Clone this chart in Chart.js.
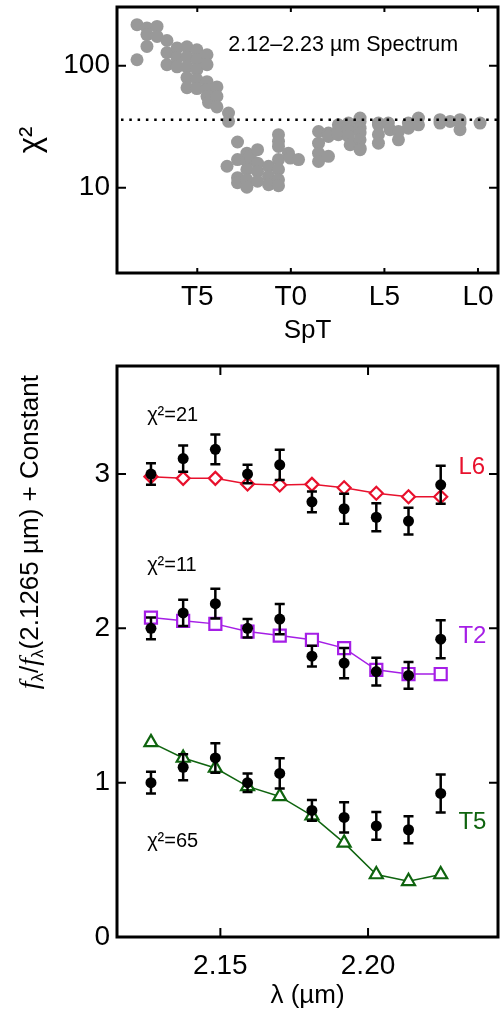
<!DOCTYPE html>
<html><head><meta charset="utf-8">
<script src="https://cdn.jsdelivr.net/npm/chart.js@4.4.0/dist/chart.umd.min.js"></script>
<style>
html,body{margin:0;padding:0;background:#fff;width:501px;height:1011px;overflow:hidden}
canvas{position:absolute;left:0}
#c1{top:0}
#c2{top:360px}
</style></head><body>
<canvas id="c1" width="501" height="360"></canvas>
<canvas id="c2" width="501" height="651"></canvas>
<script>
// ---------- Top panel: chi^2 vs spectral type (numeric: L0=10, L5=15, T0=20, T5=25) ----------
const sptValues = [
  28.22, 28.22,
  27.69, 27.69, 27.69,
  27.15, 27.15,
  26.62, 26.62, 26.62,
  26.08, 26.08, 26.08,
  25.55, 25.55, 25.55, 25.55, 25.55,
  25.02, 25.02, 25.02, 25.02, 25.02,
  24.48, 24.48, 24.48, 24.48, 24.48,
  24.40,
  23.95, 23.95, 23.95,
  23.33, 23.33,
  23.41,
  22.85, 22.85, 22.85, 22.85,
  22.35, 22.35, 22.35, 22.35, 22.35,
  22.17,
  21.78, 21.78, 21.78, 21.78,
  21.19, 21.19, 21.19,
  20.66, 20.66, 20.66, 20.66, 20.66, 20.66, 20.66,
  20.13, 20.03,
  19.59,
  18.52, 18.52, 18.52, 18.52,
  17.99, 17.99, 17.99,
  17.46, 17.46, 17.46,
  16.92, 16.92, 16.92, 16.92, 16.83,
  16.30, 16.30, 16.30, 16.30, 16.30, 16.30, 16.30,
  15.32, 15.32, 15.32, 15.32,
  14.79, 14.70,
  14.25, 14.25,
  13.72, 13.72,
  13.18, 13.18,
  12.03, 12.03,
  11.49,
  10.96, 10.96, 10.96,
  9.89
];
const chi2Values = [
  217, 112,
  204, 180, 144,
  210, 174,
  161, 128, 102,
  140, 116, 98,
  143, 118, 98, 80, 66,
  135, 112, 93, 77, 65,
  123, 102, 74, 64, 56,
  50,
  67, 56, 46,
  41, 35,
  15.0,
  23.7, 17.0, 12.1, 11.0,
  19.2, 16.4, 14.1, 11.6, 10.1,
  18.1,
  20.5, 15.9, 13.6, 11.3,
  15.0, 12.4, 10.6,
  27.2, 24.0, 21.8, 17.0, 14.1, 11.6, 10.4,
  19.2, 17.5,
  17.0,
  28.9, 23.2, 19.2, 16.4,
  28.1, 26.3, 18.1,
  32.8, 29.9, 27.2,
  33.9, 31.8, 28.9, 26.3, 22.5,
  37.3, 34.9, 30.8, 28.1, 24.7, 21.1, 20.5,
  33.9, 32.8, 27.2, 23.2,
  33.9, 29.9,
  28.9, 24.7,
  33.9, 30.8,
  37.3, 32.8,
  36.1, 33.9,
  34.9,
  36.1, 33.9, 29.9,
  33.9
];
const chi2Threshold = [36];
const sptTickValues = [25, 20, 15, 10];
const sptTickLabels = ['T5', 'T0', 'L5', 'L0'];
const chi2TickLabels = [10, 100];

// ---------- Bottom panel: normalized spectrum ----------
const wavelengths = [2.1265, 2.1374, 2.1483, 2.1592, 2.1701, 2.1810, 2.1919, 2.2028, 2.2137, 2.2246];
const fluxObs = [1.00, 1.10, 1.16, 1.00, 1.06, 0.82, 0.775, 0.72, 0.695, 0.93];
const fluxErr = [0.07, 0.085, 0.096, 0.06, 0.098, 0.067, 0.098, 0.09, 0.087, 0.123];
const modelL6 = [0.983, 0.972, 0.972, 0.935, 0.929, 0.933, 0.911, 0.875, 0.853, 0.853];
const modelT2 = [1.070, 1.049, 1.029, 0.979, 0.953, 0.926, 0.872, 0.731, 0.704, 0.704];
const modelT5 = [1.261, 1.160, 1.095, 0.976, 0.911, 0.786, 0.610, 0.405, 0.361, 0.405];
const modelNames = ['L6', 'T2', 'T5'];
const modelOffsets = [2, 1, 0];
const fitChi2 = [21, 11, 65];
const wavelengthTickLabels = [2.15, 2.20];
const fluxTickLabels = [0, 1, 2, 3];

// ---------- styling ----------
const FONT = '"Liberation Sans", Arial, Helvetica, sans-serif';
const COLORS = { L6: '#e8112d', T2: '#a51ee6', T5: '#0f640f', dots: '#999999' };

function fixWidth(w) {
  return function (s) { s.width = w; s.paddingTop = 0; s.paddingBottom = 0; s.paddingLeft = 0; s.paddingRight = 0; };
}
function fixHeight(h) {
  return function (s) { s.height = h; s.paddingTop = 0; s.paddingBottom = 0; s.paddingLeft = 0; s.paddingRight = 0; };
}

function framePlugin(isMajorX, isMajorY) {
  return {
    id: 'frameTicks',
    afterDatasetsDraw(chart) {
      const { ctx, chartArea: a } = chart;
      ctx.save();
      ctx.strokeStyle = '#000';
      ctx.lineWidth = 2;
      [['x', isMajorX], ['y', isMajorY]].forEach(([id, isMajor]) => {
        const s = chart.scales[id];
        s.ticks.forEach(t => {
          const len = isMajor(t.value) ? 9 : 5;
          const p = s.getPixelForValue(t.value);
          ctx.beginPath();
          if (s.isHorizontal()) {
            ctx.moveTo(p, a.bottom); ctx.lineTo(p, a.bottom - len);
            ctx.moveTo(p, a.top); ctx.lineTo(p, a.top + len);
          } else {
            ctx.moveTo(a.left, p); ctx.lineTo(a.left + len, p);
            ctx.moveTo(a.right, p); ctx.lineTo(a.right - len, p);
          }
          ctx.stroke();
        });
      });
      ctx.lineWidth = 3;
      ctx.strokeRect(a.left, a.top, a.width, a.height);
      ctx.restore();
    }
  };
}

function textPlugin(items) {
  return {
    id: 'texts',
    afterDatasetsDraw(chart) {
      const { ctx } = chart;
      const xs = chart.scales.x, ys = chart.scales.y;
      ctx.save();
      items.forEach(it => {
        ctx.font = it.font;
        ctx.fillStyle = it.color;
        ctx.textAlign = 'left';
        ctx.textBaseline = 'middle';
        ctx.fillText(it.text, xs.getPixelForValue(it.x), ys.getPixelForValue(it.y));
      });
      ctx.restore();
    }
  };
}

const thresholdPlugin = {
  id: 'threshold',
  afterDatasetsDraw(chart) {
    const { ctx, chartArea: a } = chart;
    const p = chart.scales.y.getPixelForValue(chi2Threshold[0]);
    ctx.save();
    ctx.strokeStyle = '#000';
    ctx.lineWidth = 2.5;
    ctx.setLineDash([2.5, 5.8]);
    ctx.beginPath();
    ctx.moveTo(a.left + 4, p);
    ctx.lineTo(a.right, p);
    ctx.stroke();
    ctx.restore();
  }
};

const errorBarPlugin = {
  id: 'errorBars',
  afterDatasetsDraw(chart) {
    const { ctx } = chart;
    const xs = chart.scales.x, ys = chart.scales.y;
    ctx.save();
    ctx.strokeStyle = '#000';
    ctx.lineWidth = 2.5;
    chart.data.datasets.forEach(ds => {
      if (!ds.errorBars) return;
      ds.data.forEach((d, i) => {
        const e = ds.errorBars[i];
        const x = xs.getPixelForValue(d.x);
        const y1 = ys.getPixelForValue(d.y + e);
        const y2 = ys.getPixelForValue(d.y - e);
        ctx.beginPath();
        ctx.moveTo(x, y1); ctx.lineTo(x, y2);
        ctx.moveTo(x - 5, y1); ctx.lineTo(x + 5, y1);
        ctx.moveTo(x - 5, y2); ctx.lineTo(x + 5, y2);
        ctx.stroke();
      });
    });
    ctx.restore();
  }
};

const yTitleBottom = {
  id: 'yTitleBottom',
  afterDraw(chart) {
    const { ctx, chartArea: a } = chart;
    const segs = [
      { t: 'f', font: 'italic 28px "Liberation Serif", serif', dy: 0 },
      { t: 'λ', font: '17px ' + FONT, dy: 5 },
      { t: '/', font: '26px ' + FONT, dy: 0 },
      { t: 'f', font: 'italic 28px "Liberation Serif", serif', dy: 0 },
      { t: 'λ', font: '17px ' + FONT, dy: 5 },
      { t: '(2.1265 µm) + Constant', font: '26px ' + FONT, dy: 0 }
    ];
    ctx.save();
    ctx.fillStyle = '#000';
    ctx.textBaseline = 'alphabetic';
    ctx.textAlign = 'left';
    let total = 0;
    segs.forEach(s => { ctx.font = s.font; s.w = ctx.measureText(s.t).width; total += s.w; });
    ctx.translate(38, a.top + 9);
    ctx.rotate(-Math.PI / 2);
    let x = -total;
    segs.forEach(s => { ctx.font = s.font; ctx.fillText(s.t, x, s.dy); x += s.w; });
    ctx.restore();
  }
};

// ---------- Top chart ----------
new Chart(document.getElementById('c1'), {
  type: 'scatter',
  data: {
    datasets: [{
      data: sptValues.map((v, i) => ({ x: v, y: chi2Values[i] })),
      pointRadius: 6.5,
      pointBackgroundColor: COLORS.dots,
      pointBorderWidth: 0,
      borderWidth: 0
    }]
  },
  options: {
    responsive: false, animation: false, devicePixelRatio: 1, events: [],
    layout: { autoPadding: false, padding: { top: 7, right: 3, left: 0, bottom: 0 } },
    plugins: { legend: { display: false }, tooltip: { enabled: false } },
    scales: {
      x: {
        type: 'linear', reverse: true, min: 8.93, max: 29.29,
        grid: { display: false, drawTicks: false }, border: { display: false },
        afterBuildTicks(s) { const t = []; for (let v = 9; v <= 29; v++) t.push({ value: v }); s.ticks = t; },
        ticks: {
          autoSkip: false, maxRotation: 0, padding: 7, color: '#000',
          font: { family: FONT, size: 28 },
          callback: (v) => { const k = sptTickValues.indexOf(v); return k >= 0 ? sptTickLabels[k] : null; }
        },
        title: { display: true, text: 'SpT', color: '#000', font: { family: FONT, size: 26 }, padding: { top: 0, bottom: 14 } },
        afterFit: fixHeight(87)
      },
      y: {
        type: 'logarithmic', min: 2, max: 303,
        grid: { display: false, drawTicks: false }, border: { display: false },
        afterBuildTicks(s) {
          const t = [];
          [1, 10, 100].forEach(d => { for (let m = 1; m <= 9; m++) { const v = m * d; if (v >= 2 && v <= 303) t.push({ value: v }); } });
          s.ticks = t;
        },
        ticks: {
          autoSkip: false, padding: 7, color: '#000',
          font: { family: FONT, size: 28 },
          callback: (v) => chi2TickLabels.includes(v) ? String(v) : null
        },
        title: { display: true, text: 'χ²', color: '#000', font: { family: FONT, size: 31 }, padding: { top: 13, bottom: 0 } },
        afterFit: fixWidth(117)
      }
    }
  },
  plugins: [
    thresholdPlugin,
    framePlugin(v => false, v => Math.abs(Math.log10(v) - Math.round(Math.log10(v))) < 1e-9),
    textPlugin([{ text: '2.12–2.23 µm Spectrum', x: 23.34, y: 148, font: '21.5px ' + FONT, color: '#000' }])
  ]
});

// ---------- Bottom chart ----------
const models = [modelL6, modelT2, modelT5];
const modelStyles = [
  { color: COLORS.L6, pointStyle: 'rectRot', r: 6.5 },
  { color: COLORS.T2, pointStyle: 'rect', r: 8.5 },
  { color: COLORS.T5, pointStyle: 'triangle', r: 7.5 }
];
const datasets = [];
models.forEach((m, k) => {
  datasets.push({
    data: wavelengths.map((w, i) => ({ x: w, y: m[i] + modelOffsets[k] })),
    showLine: true,
    borderColor: modelStyles[k].color,
    borderWidth: 1.5,
    pointStyle: modelStyles[k].pointStyle,
    pointRadius: modelStyles[k].r,
    pointBorderColor: modelStyles[k].color,
    pointBackgroundColor: '#ffffff',
    pointBorderWidth: 2.2,
    order: 2
  });
  datasets.push({
    data: wavelengths.map((w, i) => ({ x: w, y: fluxObs[i] + modelOffsets[k] })),
    errorBars: fluxErr,
    pointRadius: 5.5,
    pointBackgroundColor: '#000',
    pointBorderWidth: 0,
    borderWidth: 0,
    order: 1
  });
});

const labelTexts = [];
modelNames.forEach((n, k) => {
  labelTexts.push({ text: n, x: 2.2306, y: [3.04, 1.945, 0.74][k], font: '24px ' + FONT, color: modelStyles[k].color });
  labelTexts.push({ text: 'χ²=' + fitChi2[k], x: 2.1252, y: [3.38, 2.41, 0.62][k], font: '20px ' + FONT, color: '#000' });
});

new Chart(document.getElementById('c2'), {
  type: 'scatter',
  data: { datasets },
  options: {
    responsive: false, animation: false, devicePixelRatio: 1, events: [],
    layout: { autoPadding: false, padding: { top: 6, right: 3, left: 0, bottom: 0 } },
    plugins: { legend: { display: false }, tooltip: { enabled: false } },
    scales: {
      x: {
        type: 'linear', min: 2.115, max: 2.244,
        grid: { display: false, drawTicks: false }, border: { display: false },
        afterBuildTicks(s) { const t = []; for (let k = 212; k <= 224; k++) t.push({ value: k / 100 }); s.ticks = t; },
        ticks: {
          autoSkip: false, maxRotation: 0, padding: 12, color: '#000',
          font: { family: FONT, size: 28 },
          callback: (v) => wavelengthTickLabels.some(w => Math.abs(w - v) < 1e-9) ? v.toFixed(2) : null
        },
        title: { display: true, text: 'λ (µm)', color: '#000', font: { family: FONT, size: 26 }, padding: { top: 0, bottom: 0 } },
        afterFit: fixHeight(74)
      },
      y: {
        type: 'linear', min: 0, max: 3.7,
        grid: { display: false, drawTicks: false }, border: { display: false },
        afterBuildTicks(s) { const t = []; for (let k = 0; k <= 37; k++) t.push({ value: k / 10 }); s.ticks = t; },
        ticks: {
          autoSkip: false, padding: 7, color: '#000',
          font: { family: FONT, size: 28 },
          callback: (v) => fluxTickLabels.some(f => Math.abs(f - v) < 1e-9) ? String(Math.round(v)) : null
        },
        afterFit: fixWidth(117)
      }
    }
  },
  plugins: [
    errorBarPlugin,
    framePlugin(v => Math.abs(v * 20 - Math.round(v * 20)) < 1e-6, v => Math.abs(v - Math.round(v)) < 1e-6),
    textPlugin(labelTexts),
    yTitleBottom
  ]
});
</script>
</body></html>
